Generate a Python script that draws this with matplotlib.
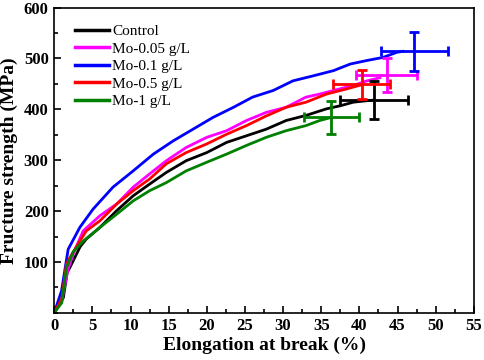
import matplotlib
matplotlib.use("Agg")
import matplotlib.pyplot as plt
from matplotlib.ticker import MultipleLocator

plt.rcParams['font.family'] = ['Liberation Serif', 'DejaVu Serif']

labels = ["Control", "Mo-0.05 g/L", "Mo-0.1 g/L", "Mo-0.5 g/L", "Mo-1 g/L"]
colors = ["#000000", "#ff00ff", "#0000ff", "#ff0000", "#008000"]

# stress-strain curves (elongation %, strength MPa)
control_x = [0, 1.2, 1.7, 2.05, 3.4, 4.2, 6, 8.2, 10.35, 12.5, 14.7, 17.3, 20, 22.6, 25.2, 27.8, 30.4, 33, 35.7, 37.5, 39.2, 41, 41.8]
control_y = [0, 30, 79, 89, 130, 145, 168, 201, 230, 253, 276, 299, 315, 335, 348, 361, 378, 388, 401, 407, 414, 417, 418]

mo005_x = [0, 1.0, 1.8, 2.6, 3.8, 6, 8.2, 10.35, 12.5, 14.7, 17.3, 20, 22.6, 25.2, 27.8, 30.4, 33, 34.8, 36.6, 39.2, 41, 42.7]
mo005_y = [0, 25, 85, 120, 161, 191, 214, 247, 273, 299, 325, 345, 358, 378, 394, 404, 424, 430, 437, 447, 456, 462]

mo01_x = [0, 0.96, 1.83, 3.36, 5.1, 7.7, 10.35, 13, 15.6, 18.2, 20.8, 23.5, 26, 28.7, 31.3, 34, 36.6, 38.8, 41, 43.1, 44.9, 45.7]
mo01_y = [0, 43, 125, 168, 204, 247, 279, 312, 338, 361, 384, 404, 424, 437, 456, 466, 476, 489, 496, 502, 512, 514]

mo05_x = [0, 1.0, 1.6, 2.3, 4.2, 6, 8.2, 10.35, 12.5, 14.7, 17.3, 20, 22.6, 25.2, 27.8, 30.4, 33, 35.7, 38.3, 40]
mo05_y = [0, 28, 96, 115, 161, 181, 214, 240, 263, 293, 315, 332, 351, 368, 387, 404, 414, 430, 440, 447]

mo1_x = [0, 1.0, 1.6, 2.5, 3.8, 6, 8.2, 10.35, 12.5, 14.7, 17.3, 20, 22.6, 25.2, 27.8, 30.4, 33, 34.8, 36.3]
mo1_y = [0, 20, 89, 120, 141, 168, 194, 220, 240, 256, 279, 296, 312, 329, 345, 358, 368, 378, 384]

curves_x = [control_x, mo005_x, mo01_x, mo05_x, mo1_x]
curves_y = [control_y, mo005_y, mo01_y, mo05_y, mo1_y]

# error bar summaries
eb_x = [41.9, 43.6, 47.2, 40.3, 36.3]
eb_y = [418, 468, 514, 449, 384]
eb_xerr = [4.45, 4.0, 4.35, 3.7, 3.6]
eb_yerr = [37, 33, 38, 29, 33]

fig = plt.figure(figsize=(4.84, 3.6), dpi=100)
ax = fig.add_axes([0.112, 0.131, 0.867, 0.848])

for cx, cy, c, lab in zip(curves_x, curves_y, colors, labels):
    ax.plot(cx, cy, color=c, lw=2, label=lab)

for x, y, xe, ye, c in zip(eb_x, eb_y, eb_xerr, eb_yerr, colors):
    ax.errorbar(x, y, xerr=xe, yerr=ye, fmt='none', ecolor=c, elinewidth=2,
                capsize=3.5, capthick=2)

ax.set_xlim(0, 55)
ax.set_ylim(0, 600)
ax.xaxis.set_major_locator(MultipleLocator(5))
ax.xaxis.set_minor_locator(MultipleLocator(2.5))
ax.yaxis.set_major_locator(MultipleLocator(100))
ax.yaxis.set_minor_locator(MultipleLocator(50))
ax.set_yticks([100, 200, 300, 400, 500, 600])
ax.tick_params(which='both', direction='in', top=False, right=False, width=1.2)
ax.tick_params(which='major', length=5, labelsize=12, pad=4)
ax.tick_params(which='minor', length=3)
for lab in ax.get_xticklabels() + ax.get_yticklabels():
    lab.set_fontweight('bold')
for s in ax.spines.values():
    s.set_linewidth(1.2)

ax.set_xlabel("Elongation at break (%)", fontsize=14, fontweight='bold', labelpad=2)
ax.set_ylabel("Fructure strength (MPa)", fontsize=14, fontweight='bold', labelpad=4)

leg = ax.legend(loc='upper left', bbox_to_anchor=(0.036, 0.965), frameon=False,
                fontsize=11, handlelength=2.2, handletextpad=0.2, labelspacing=0.25,
                borderaxespad=0)
for l in leg.get_lines():
    l.set_linewidth(2.5)

fig.savefig("out.png", dpi=100)
